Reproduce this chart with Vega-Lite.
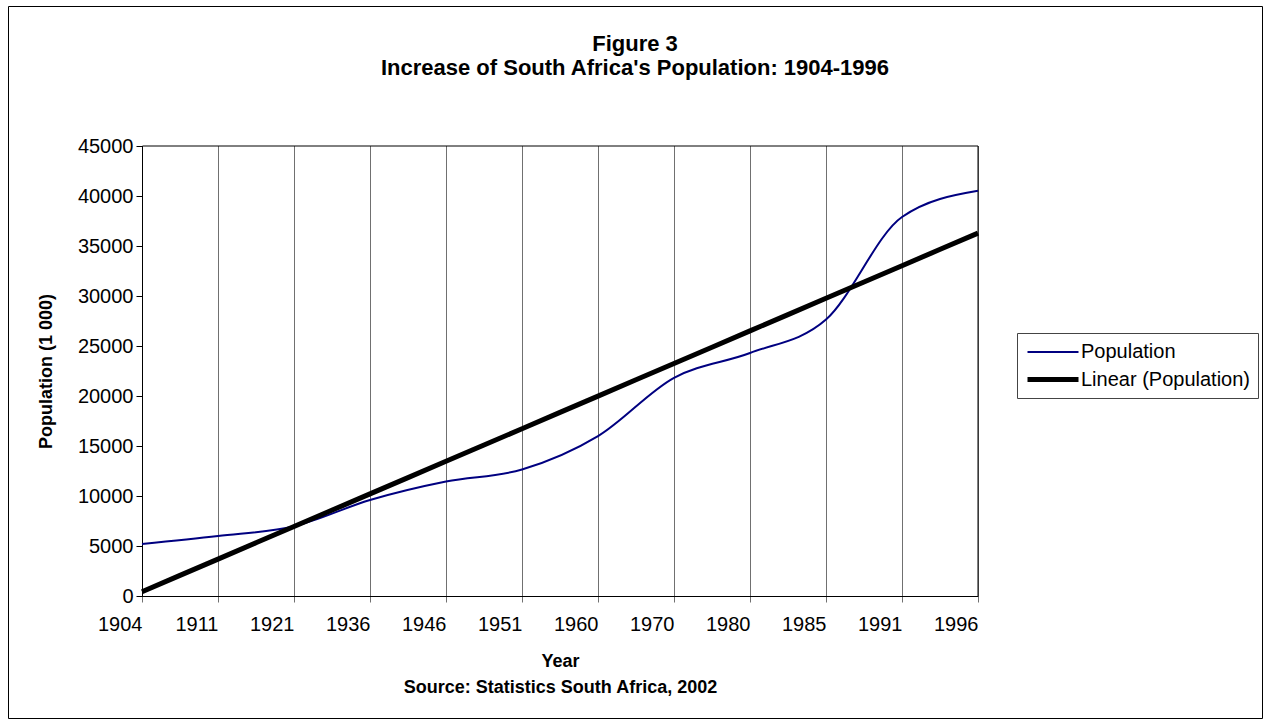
{
  "$schema": "https://vega.github.io/schema/vega-lite/v6.json",
  "width": 1254,
  "height": 712,
  "autosize": {"type": "none"},
  "padding": {"left": 8, "top": 6, "right": 3, "bottom": 6},
  "background": "white",
  "config": {
    "font": "Liberation Sans",
    "view": {"stroke": "#000000", "strokeWidth": 1}
  },
  "title": {
    "text": ["Figure 3", "Increase of South Africa's Population: 1904-1996"],
    "fontSize": 22,
    "fontWeight": "bold",
    "color": "#000000",
    "anchor": "middle",
    "frame": "group",
    "lineHeight": 24,
    "offset": -74
  },
  "data": {
    "values": [
      {"year": "1904", "series": "Population", "value": 5200},
      {"year": "1911", "series": "Population", "value": 6000},
      {"year": "1921", "series": "Population", "value": 6970},
      {"year": "1936", "series": "Population", "value": 9600},
      {"year": "1946", "series": "Population", "value": 11450},
      {"year": "1951", "series": "Population", "value": 12650},
      {"year": "1960", "series": "Population", "value": 15990},
      {"year": "1970", "series": "Population", "value": 21820},
      {"year": "1980", "series": "Population", "value": 24300},
      {"year": "1985", "series": "Population", "value": 27640},
      {"year": "1991", "series": "Population", "value": 37900},
      {"year": "1996", "series": "Population", "value": 40520},
      {"year": "1904", "series": "Linear (Population)", "value": 430},
      {"year": "1911", "series": "Linear (Population)", "value": 3690},
      {"year": "1921", "series": "Linear (Population)", "value": 6950},
      {"year": "1936", "series": "Linear (Population)", "value": 10210},
      {"year": "1946", "series": "Linear (Population)", "value": 13470},
      {"year": "1951", "series": "Linear (Population)", "value": 16730},
      {"year": "1960", "series": "Linear (Population)", "value": 19990},
      {"year": "1970", "series": "Linear (Population)", "value": 23250},
      {"year": "1980", "series": "Linear (Population)", "value": 26510},
      {"year": "1985", "series": "Linear (Population)", "value": 29770},
      {"year": "1991", "series": "Linear (Population)", "value": 33030},
      {"year": "1996", "series": "Linear (Population)", "value": 36290}
    ]
  },
  "layer": [
    {
      "transform": [{"filter": "datum.series === 'Population'"}],
      "mark": {"type": "rule", "color": "#707070", "strokeWidth": 1, "xOffset": 0.5},
      "encoding": {
        "x": {"field": "year", "type": "ordinal"},
        "y": {"datum": 0, "type": "quantitative"},
        "y2": {"datum": 45000}
      }
    },
    {
      "data": {"values": [{}]},
      "mark": {"type": "rect", "fill": null, "stroke": "#000000", "strokeWidth": 1, "xOffset": 0.5, "yOffset": 0.5},
      "encoding": {
        "x": {"datum": "1904", "type": "ordinal"},
        "x2": {"datum": "1996"},
        "y": {"datum": 0, "type": "quantitative"},
        "y2": {"datum": 45000}
      }
    },
    {
      "mark": {"type": "line", "interpolate": "monotone"},
      "encoding": {
        "x": {
          "field": "year",
          "type": "ordinal",
          "sort": null,
          "scale": {
            "type": "point",
            "domain": ["1904", "1911", "1921", "1936", "1946", "1951", "1960", "1970", "1980", "1985", "1991", "1996"],
            "range": [134, 970],
            "padding": 0
          },
          "axis": {
            "orient": "bottom",
            "offset": -122,
            "labelAngle": 0,
            "labelFontSize": 20,
            "labelColor": "#000000",
            "labelPadding": 22,
            "tickSize": 6,
            "tickColor": "#707070",
            "domainColor": "#000000",
            "grid": false,
            "title": ["Year", "Source: Statistics South Africa, 2002"],
            "titleFontSize": 18,
            "titleFontWeight": "bold",
            "titleColor": "#000000",
            "titleLineHeight": 26,
            "titlePadding": 18
          }
        },
        "y": {
          "field": "value",
          "type": "quantitative",
          "scale": {"domain": [0, 45000], "range": [590, 140], "nice": false},
          "axis": {
            "orient": "left",
            "offset": -134,
            "values": [0, 5000, 10000, 15000, 20000, 25000, 30000, 35000, 40000, 45000],
            "format": "d",
            "grid": false,
            "labelFontSize": 20,
            "labelColor": "#000000",
            "labelPadding": 3,
            "tickSize": 6,
            "tickColor": "#000000",
            "domainColor": "#000000",
            "title": "Population (1 000)",
            "titleFontSize": 18,
            "titleFontWeight": "bold",
            "titleColor": "#000000",
            "titlePadding": 22
          }
        },
        "color": {
          "field": "series",
          "type": "nominal",
          "scale": {"domain": ["Population", "Linear (Population)"], "range": ["#000080", "#000000"]},
          "legend": {
            "orient": "none",
            "legendX": 1009,
            "legendY": 327,
            "title": null,
            "symbolType": "M-1,0H4.1",
            "symbolSize": 400,
            "labelFontSize": 20,
            "labelLimit": 400,
            "labelColor": "#000000",
            "labelOffset": 31,
            "strokeColor": "#444444",
            "fillColor": "#ffffff",
            "padding": 8,
            "rowPadding": 5
          }
        },
        "strokeWidth": {
          "field": "series",
          "type": "nominal",
          "scale": {"domain": ["Population", "Linear (Population)"], "range": [2, 5]},
          "legend": {
            "orient": "none",
            "legendX": 1009,
            "legendY": 327,
            "title": null,
            "symbolType": "M-1,0H4.1",
            "symbolSize": 400,
            "labelFontSize": 20,
            "labelLimit": 400,
            "labelColor": "#000000",
            "labelOffset": 31,
            "strokeColor": "#444444",
            "fillColor": "#ffffff",
            "padding": 8,
            "rowPadding": 5
          }
        }
      }
    }
  ]
}
